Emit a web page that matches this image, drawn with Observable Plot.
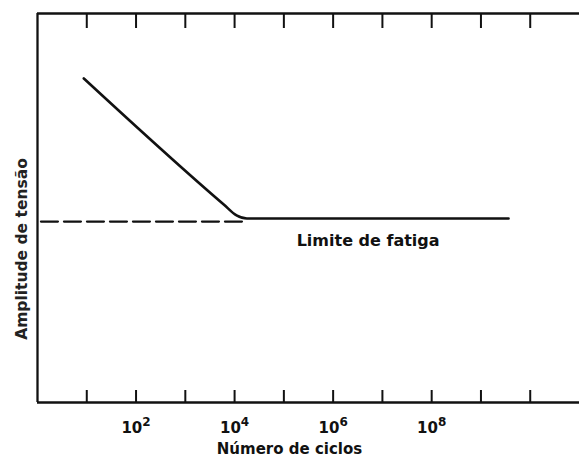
<!DOCTYPE html>
<html>
<head>
<meta charset="utf-8">
<script src="https://cdn.jsdelivr.net/npm/d3@7"></script>
<script src="https://cdn.jsdelivr.net/npm/@observablehq/plot@0.6"></script>
<style>
  html, body { margin: 0; padding: 0; background: #fff; }
  svg { display: block; }
</style>
</head>
<body>
<div id="chart"></div>
<script>
// S-N curve (log10 of number of cycles, relative stress amplitude)
const curveLogN = [0.94, 3.78, 4.04, 4.25, 9.56];
const curveAmp  = [0.833, 0.509, 0.481, 0.473, 0.473];

// Dashed fatigue-limit line
const limitLogN = [0.07, 4.18];
const limitAmp  = [0.465, 0.465];

// Axis ticks
const tickExponents  = [1, 2, 3, 4, 5, 6, 7, 8, 9, 10];
const labelExponents = [2, 4, 6, 8];

// Texts
const xTitle = "Número de ciclos";
const yTitle = "Amplitude de tensão";
const limitText = "Limite de fatiga";
const limitTextLogN = 6.71;

const curve = curveLogN.map((e, i) => ({n: Math.pow(10, e), a: curveAmp[i]}));
const limit = limitLogN.map((e, i) => ({n: Math.pow(10, e), a: limitAmp[i]}));
const ticks = tickExponents.map(e => Math.pow(10, e));
const labelTicks = labelExponents.map(e => Math.pow(10, e));

const font = "DejaVu Sans";

const chart = Plot.plot({
  width: 579,
  height: 464,
  marginLeft: 37,
  marginRight: 0,
  marginTop: 13,
  marginBottom: 62,
  style: {fontFamily: font, background: "#fff", color: "#111"},
  x: {type: "log", domain: [1, 1e11]},
  y: {domain: [0, 1], axis: null},
  marks: [
    // frame: left, bottom, top (right open)
    Plot.ruleX([1], {stroke: "#111", strokeWidth: 2.3}),
    Plot.ruleY([0, 1], {stroke: "#111", strokeWidth: 2.3}),
    // inward ticks, bottom and top
    Plot.ruleX(ticks, {stroke: "#111", strokeWidth: 2, insetTop: 377}),
    Plot.ruleX(ticks, {stroke: "#111", strokeWidth: 2, insetBottom: 374}),
    Plot.axisX(labelTicks, {
      tickSize: 0,
      tickPadding: 20,
      tickFormat: d => String(Math.round(Math.log10(d))),
      label: null,
      ariaLabel: "x-axis"
    }),
    Plot.text([xTitle], {frameAnchor: "bottom", dx: -19, dy: 51, fontSize: 15, fontWeight: "bold", fill: "#111"}),
    Plot.text([yTitle], {frameAnchor: "left", textAnchor: "middle", rotate: -90, dx: -15, dy: 41, fontSize: 15.5, fontWeight: "bold", fill: "#222"}),
    Plot.line(limit, {x: "n", y: "a", stroke: "#111", strokeWidth: 2.2, strokeDasharray: "17,6"}),
    Plot.line(curve, {x: "n", y: "a", stroke: "#111", strokeWidth: 2.6, curve: "monotone-x"}),
    Plot.text([limitText], {x: () => Math.pow(10, limitTextLogN), y: () => curveAmp[curveAmp.length - 1], dy: 22, fontSize: 16, fontWeight: "bold", fill: "#111"})
  ]
});

// Render tick labels as 10 with a superscript exponent
chart.querySelectorAll('g[aria-label="x-axis tick label"] text').forEach(t => {
  const exp = t.textContent;
  t.textContent = "";
  t.setAttribute("font-size", "15");
  t.setAttribute("font-weight", "bold");
  const base = document.createElementNS("http://www.w3.org/2000/svg", "tspan");
  base.textContent = "10";
  base.setAttribute("font-size", "15px");
  const sup = document.createElementNS("http://www.w3.org/2000/svg", "tspan");
  sup.textContent = exp;
  sup.setAttribute("dy", "-7");
  sup.setAttribute("font-size", "12px");
  t.appendChild(base);
  t.appendChild(sup);
});

document.getElementById("chart").appendChild(chart);
</script>
</body>
</html>
